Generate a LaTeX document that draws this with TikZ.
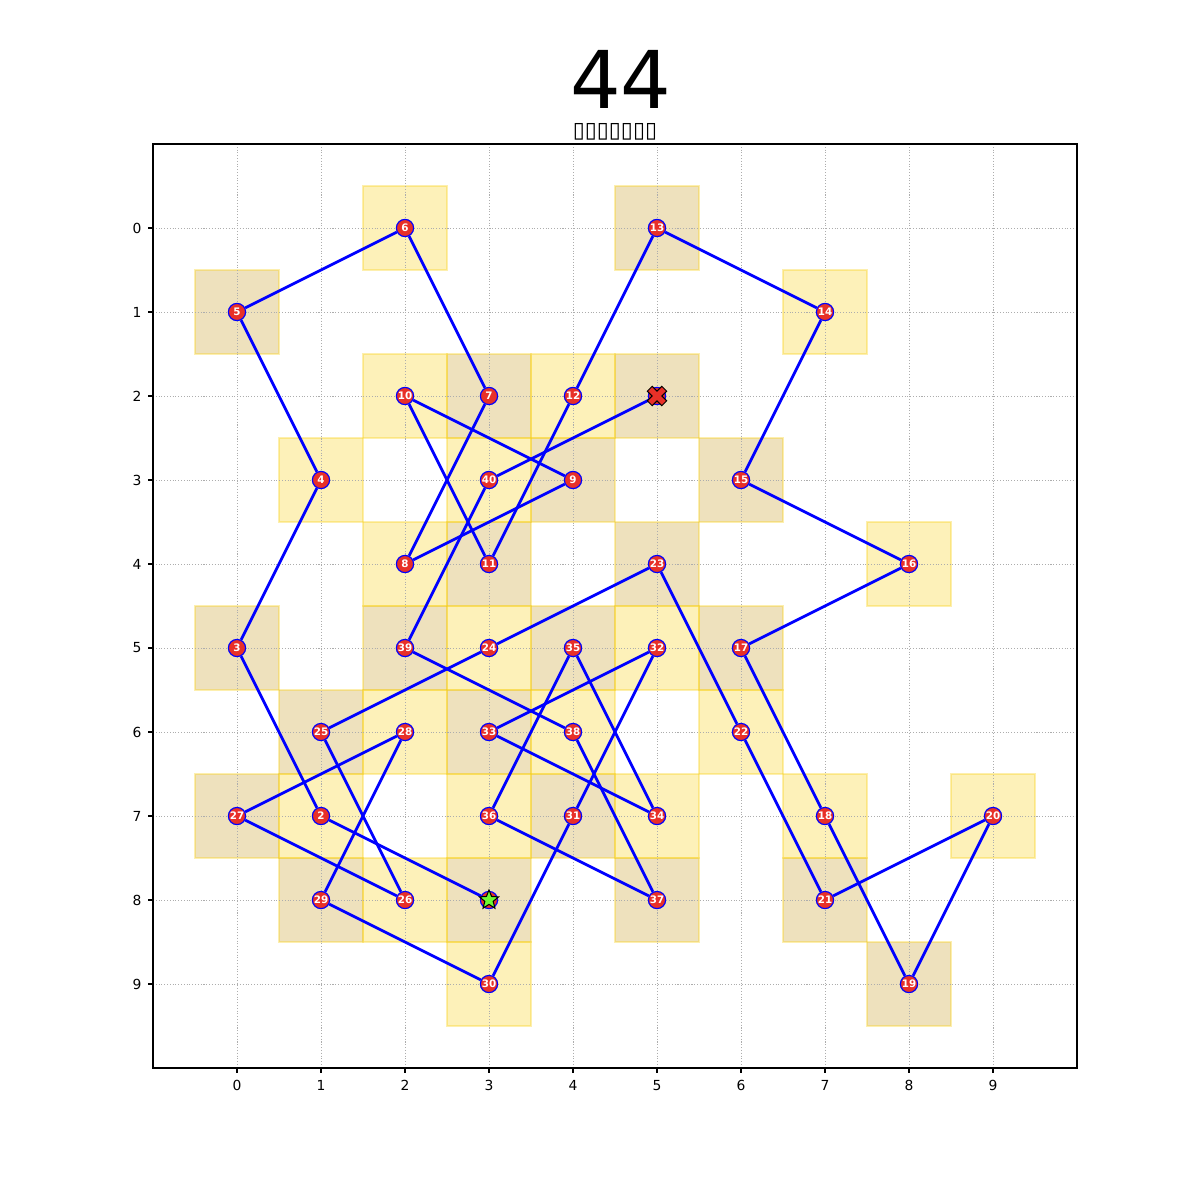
\documentclass[tikz,border=0pt]{standalone}
\usepackage{fontspec}
\setmainfont{DejaVu Sans}
\usetikzlibrary{shapes.geometric}
\definecolor{nodered}{RGB}{232,48,40}
\definecolor{cellyel}{RGB}{248,208,22}
\definecolor{celltan}{RGB}{198,155,35}
\definecolor{startgreen}{RGB}{110,250,50}
\pgfdeclarelayer{bg}
\pgfdeclarelayer{edges}
\pgfsetlayers{bg,edges,main}
\tikzset{
  pt/.style={circle, fill=nodered, draw=blue, line width=0.4pt, minimum size=0.205cm, inner sep=0pt,
    text=white, font=\fontsize{3.5}{3.7}\selectfont\bfseries},
  edge/.style={draw=blue, line width=0.95pt},
  yelcell/.style={fill=cellyel, fill opacity=0.3, draw=cellyel, draw opacity=0.35, line width=0.45pt},
  tancell/.style={fill=celltan, fill opacity=0.3, draw=cellyel, draw opacity=0.35, line width=0.45pt},
  gridline/.style={draw=black!32, line width=0.25pt, dash pattern=on 0.35pt off 0.6pt},
  ticklab/.style={font=\fontsize{4.7}{5}\selectfont, inner sep=0pt},
}
\begin{document}
\begin{tikzpicture}
\useasboundingbox (-2.82143,2.71429) rectangle (11.46429,-11.57143);
% title
\node[font=\fontsize{27}{30}\selectfont, inner sep=0pt, text height=0.68cm, text depth=0pt] (title) at (4.57,1.76) {44};
\node[font=\fontsize{7.4}{8}\selectfont, inner sep=0pt] (subtitle) at (4.5,1.14) {▯▯▯▯▯▯▯};
% nodes
\foreach \i/\x/\y in {1/3/8, 2/1/7, 3/0/5, 4/1/3, 5/0/1, 6/2/0, 7/3/2, 8/2/4, 9/4/3, 10/2/2,
  11/3/4, 12/4/2, 13/5/0, 14/7/1, 15/6/3, 16/8/4, 17/6/5, 18/7/7, 19/8/9, 20/9/7,
  21/7/8, 22/6/6, 23/5/4, 24/3/5, 25/1/6, 26/2/8, 27/0/7, 28/2/6, 29/1/8, 30/3/9,
  31/4/7, 32/5/5, 33/3/6, 34/5/7, 35/4/5, 36/3/7, 37/5/8, 38/4/6, 39/2/5, 40/3/3, 41/5/2} {
  \pgfmathtruncatemacro\cpar{mod(\i,2)}
  \begin{pgfonlayer}{bg}
    \ifnum\cpar=1
      \path[tancell] (\x-0.5,-\y+0.5) rectangle (\x+0.5,-\y-0.5);
    \else
      \path[yelcell] (\x-0.5,-\y+0.5) rectangle (\x+0.5,-\y-0.5);
    \fi
  \end{pgfonlayer}
  \ifnum\i=1
    \node[pt] (n\i) at (\x,-\y) {};
  \else\ifnum\i=41
    \node[pt] (n\i) at (\x,-\y) {};
  \else
    \node[pt] (n\i) at (\x,-\y) {\i};
  \fi\fi
}
% grid
\begin{pgfonlayer}{bg}
\foreach \k in {0,...,9} {
  \draw[gridline] (\k,1) -- (\k,-10);
  \draw[gridline] (-1,-\k) -- (10,-\k);
}
\end{pgfonlayer}
% edges
\begin{pgfonlayer}{edges}
\foreach \i [evaluate=\i as \j using int(\i+1)] in {1,...,40} {
  \draw[edge] (n\i) -- (n\j);
}
\end{pgfonlayer}
% start and end markers
\node[star, star points=5, star point ratio=2.3, fill=startgreen, draw=black, line width=0.35pt,
  minimum size=0.24cm, inner sep=0pt] (start) at (n1) {};
\begin{scope}[shift={(n41)}, scale=0.23]
\draw[fill=nodered, draw=black, line width=0.35pt, line join=miter]
  (-0.25,-0.5) -- (0,-0.25) -- (0.25,-0.5) -- (0.5,-0.25) -- (0.25,0) -- (0.5,0.25)
  -- (0.25,0.5) -- (0,0.25) -- (-0.25,0.5) -- (-0.5,0.25) -- (-0.25,0) -- (-0.5,-0.25) -- cycle;
\end{scope}
% axes frame, ticks, labels
\draw[black, line width=0.38pt] (-1,1) rectangle (10,-10);
\foreach \k in {0,...,9} {
  \draw[black, line width=0.38pt] (\k,-10) -- (\k,-10.058);
  \draw[black, line width=0.38pt] (-1,-\k) -- (-1.058,-\k);
  \node[ticklab, anchor=north] (xl\k) at (\k,-10.14) {\k};
  \node[ticklab, anchor=east] (yl\k) at (-1.13,-\k) {\k};
}
\end{tikzpicture}
\end{document}
